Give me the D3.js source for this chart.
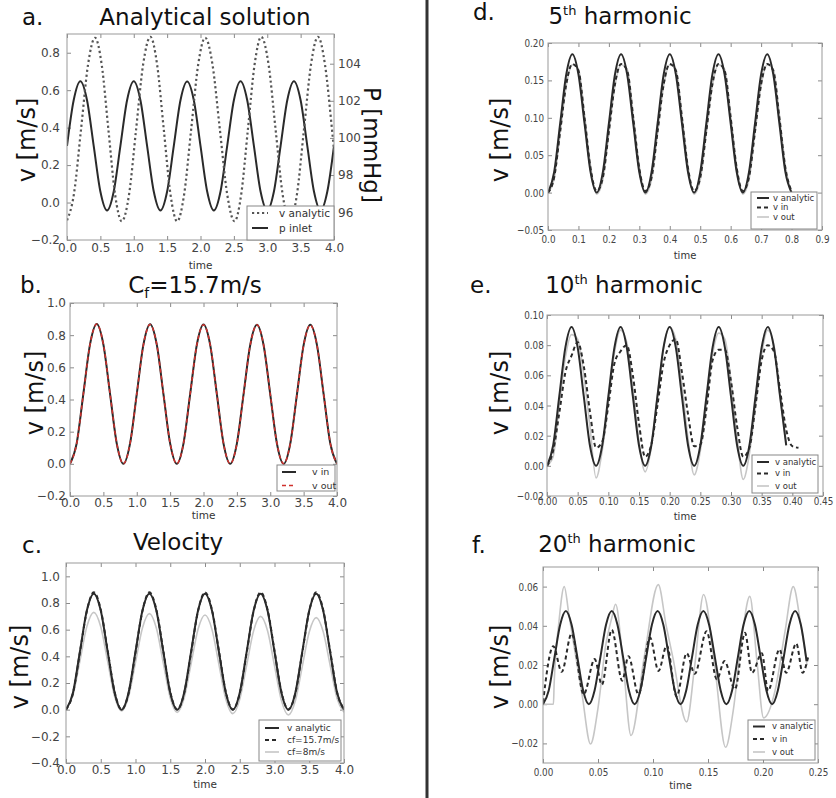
<!DOCTYPE html>
<html>
<head>
<meta charset="utf-8">
<script src="https://cdn.jsdelivr.net/npm/d3@7"></script>
<style>
  body { margin: 0; background: #fff; }
  svg text { font-family: "DejaVu Sans", sans-serif; }
</style>
</head>
<body>
<div id="container"></div>
<script>
/* DATA */
// a. analytical solution
const aVelTime = [0, 0.105, 0.21, 0.315, 0.42, 0.52, 0.62, 0.72, 0.82, 0.93, 1.035, 1.14, 1.25, 1.35, 1.45, 1.55, 1.65, 1.755, 1.86, 1.965,
  2.07, 2.18, 2.29, 2.40, 2.51, 2.61, 2.71, 2.81, 2.91, 3.02, 3.125, 3.23, 3.34, 3.445, 3.55, 3.655, 3.76, 3.865, 3.97, 4.0];
const aVelocity = [-0.095, 0.048, 0.39, 0.736, 0.88, 0.736, 0.39, 0.044, -0.10, 0.044, 0.39, 0.736, 0.885, 0.736, 0.39, 0.044, -0.10, 0.044, 0.39, 0.736,
  0.88, 0.736, 0.39, 0.044, -0.10, 0.044, 0.39, 0.736, 0.885, 0.736, 0.39, 0.044, -0.10, 0.044, 0.39, 0.736, 0.885, 0.736, 0.39, 0.28];
const tSlow = [0, 0.1, 0.2, 0.3, 0.4, 0.5, 0.6, 0.7, 0.8, 0.9, 1.0, 1.1, 1.2, 1.3, 1.4, 1.5, 1.6, 1.7, 1.8, 1.9, 2.0,
  2.1, 2.2, 2.3, 2.4, 2.5, 2.6, 2.7, 2.8, 2.9, 3.0, 3.1, 3.2, 3.3, 3.4, 3.5, 3.6, 3.7, 3.8, 3.9, 4.0];
const aPressure = [99.57, 102.03, 103.05, 102.03, 99.57, 97.11, 96.09, 97.11,
  99.57, 102.03, 103.05, 102.03, 99.57, 97.11, 96.09, 97.11,
  99.57, 102.03, 103.04, 102.03, 99.57, 97.11, 96.09, 97.11,
  99.57, 102.03, 103.05, 102.03, 99.57, 97.11, 96.09, 97.11,
  99.57, 102.03, 103.05, 102.03, 99.57, 97.11, 96.09, 97.11,
  99.57];

// b. Cf = 15.7 m/s
const bVin = [0, 0.127, 0.435, 0.743, 0.870, 0.743, 0.435, 0.127,
  0, 0.127, 0.434, 0.741, 0.868, 0.741, 0.434, 0.127,
  0, 0.126, 0.433, 0.740, 0.866, 0.740, 0.433, 0.126,
  0, 0.126, 0.432, 0.739, 0.865, 0.739, 0.432, 0.126,
  0, 0.126, 0.432, 0.738, 0.864, 0.738, 0.432, 0.126,
  0];
const bVout = [0, 0.126, 0.434, 0.742, 0.869, 0.743, 0.436, 0.128,
  0.001, 0.126, 0.433, 0.740, 0.867, 0.741, 0.435, 0.128,
  0.001, 0.125, 0.432, 0.739, 0.865, 0.740, 0.434, 0.127,
  0.001, 0.125, 0.431, 0.738, 0.864, 0.739, 0.433, 0.127,
  0.001, 0.125, 0.431, 0.737, 0.863, 0.738, 0.433, 0.127,
  0.001];

// c. velocity
const cAnalytic = [0, 0.127, 0.435, 0.743, 0.870, 0.743, 0.435, 0.127,
  0, 0.127, 0.435, 0.743, 0.870, 0.743, 0.435, 0.127,
  0, 0.127, 0.435, 0.743, 0.870, 0.743, 0.435, 0.127,
  0, 0.127, 0.435, 0.743, 0.870, 0.743, 0.435, 0.127,
  0, 0.127, 0.435, 0.743, 0.870, 0.743, 0.435, 0.127,
  0];
const cCf157 = [0, 0.122, 0.428, 0.740, 0.880, 0.750, 0.442, 0.132,
  0.002, 0.122, 0.428, 0.740, 0.880, 0.750, 0.442, 0.132,
  0.002, 0.122, 0.428, 0.740, 0.880, 0.750, 0.442, 0.132,
  0.002, 0.122, 0.428, 0.740, 0.880, 0.750, 0.442, 0.132,
  0.002, 0.122, 0.428, 0.740, 0.880, 0.750, 0.442, 0.132,
  0.002];
const cCf8 = [0, 0.107, 0.365, 0.623, 0.730, 0.622, 0.360, 0.098,
  -0.010, 0.097, 0.355, 0.613, 0.720, 0.612, 0.350, 0.088,
  -0.020, 0.087, 0.345, 0.603, 0.710, 0.602, 0.340, 0.078,
  -0.030, 0.077, 0.335, 0.593, 0.700, 0.592, 0.330, 0.068,
  -0.040, 0.067, 0.325, 0.583, 0.690, 0.586, 0.335, 0.084,
  -0.020];

// d. 5th harmonic
const dTime = [0, 0.02, 0.04, 0.06, 0.08, 0.10, 0.12, 0.14, 0.16, 0.18, 0.20, 0.22, 0.24, 0.26, 0.28, 0.30, 0.32, 0.34, 0.36, 0.38, 0.40,
  0.42, 0.44, 0.46, 0.48, 0.50, 0.52, 0.54, 0.56, 0.58, 0.60, 0.62, 0.64, 0.66, 0.68, 0.70, 0.72, 0.74, 0.76, 0.78, 0.80];
const dAnalytic = [0, 0.027, 0.0925, 0.158, 0.185, 0.158, 0.0925, 0.027,
  0, 0.027, 0.0925, 0.158, 0.185, 0.158, 0.0925, 0.027,
  0, 0.027, 0.0925, 0.158, 0.185, 0.158, 0.0925, 0.027,
  0, 0.027, 0.0925, 0.158, 0.185, 0.158, 0.0925, 0.027,
  0, 0.027, 0.0925, 0.158, 0.185, 0.158, 0.0925, 0.027,
  0];
const dVin = [0, 0.020, 0.082, 0.145, 0.172, 0.163, 0.100, 0.032,
  0.002, 0.020, 0.082, 0.145, 0.172, 0.163, 0.100, 0.032,
  0.002, 0.020, 0.082, 0.145, 0.172, 0.163, 0.100, 0.032,
  0.002, 0.020, 0.082, 0.145, 0.172, 0.163, 0.100, 0.032,
  0.002, 0.020, 0.082, 0.145, 0.172, 0.163, 0.100, 0.032,
  0.002];
const dVout = [0, 0.018, 0.080, 0.143, 0.171, 0.165, 0.104, 0.035,
  -0.002, 0.017, 0.080, 0.143, 0.171, 0.165, 0.104, 0.035,
  -0.002, 0.017, 0.080, 0.143, 0.171, 0.165, 0.104, 0.035,
  -0.002, 0.017, 0.080, 0.143, 0.171, 0.165, 0.104, 0.035,
  -0.002, 0.017, 0.080, 0.143, 0.171, 0.165, 0.104, 0.035,
  -0.002];

// e. 10th harmonic
const eTime = [0, 0.01, 0.02, 0.03, 0.04, 0.05, 0.06, 0.07, 0.08, 0.09, 0.10, 0.11, 0.12, 0.13, 0.14, 0.15, 0.16, 0.17, 0.18, 0.19,
  0.20, 0.21, 0.22, 0.23, 0.24, 0.25, 0.26, 0.27, 0.28, 0.29, 0.30, 0.31, 0.32, 0.33, 0.34, 0.35, 0.36, 0.37, 0.38, 0.39];
const eTimeIn = [0, 0.01, 0.02, 0.03, 0.04, 0.05, 0.06, 0.07, 0.08, 0.09, 0.10, 0.11, 0.12, 0.13, 0.14, 0.15, 0.16, 0.17, 0.18, 0.19,
  0.20, 0.21, 0.22, 0.23, 0.24, 0.25, 0.26, 0.27, 0.28, 0.29, 0.30, 0.31, 0.32, 0.33, 0.34, 0.35, 0.36, 0.37, 0.38, 0.39, 0.40, 0.41];
const eAnalytic = [0, 0.0135, 0.046, 0.0785, 0.092, 0.0785, 0.046, 0.0135,
  0, 0.0135, 0.046, 0.0785, 0.092, 0.0785, 0.046, 0.0135,
  0, 0.0135, 0.046, 0.0785, 0.092, 0.0785, 0.046, 0.0135,
  0, 0.0135, 0.046, 0.0785, 0.092, 0.0785, 0.046, 0.0135,
  0, 0.0135, 0.046, 0.0785, 0.092, 0.0785, 0.046, 0.0135];
const eVin = [0.000, 0.010, 0.035, 0.062, 0.073, 0.082, 0.066, 0.036, 0.012, 0.016,
  0.040, 0.068, 0.076, 0.080, 0.060, 0.028, 0.006, 0.014, 0.040, 0.068,
  0.080, 0.084, 0.062, 0.034, 0.013, 0.014, 0.038, 0.070, 0.077, 0.077,
  0.056, 0.026, 0.006, 0.012, 0.040, 0.070, 0.080, 0.076, 0.050, 0.024,
  0.013, 0.012];
const eVout = [0.000, 0.006, 0.040, 0.072, 0.087, 0.084, 0.060, 0.026, -0.008, 0.010,
  0.042, 0.075, 0.090, 0.082, 0.052, 0.016, -0.004, 0.012, 0.046, 0.078,
  0.092, 0.084, 0.054, 0.018, -0.006, 0.010, 0.042, 0.074, 0.088, 0.084,
  0.056, 0.018, -0.009, 0.008, 0.040, 0.074, 0.090, 0.080, 0.046, 0.015];

// f. 20th harmonic
const fAnTime = [0, 0.0052, 0.0104, 0.0156, 0.0208, 0.0260, 0.0313, 0.0365, 0.0417, 0.0469, 0.0521, 0.0573, 0.0625, 0.0677, 0.0729, 0.0781,
  0.0833, 0.0885, 0.0938, 0.0990, 0.1042, 0.1094, 0.1146, 0.1198, 0.1250, 0.1302, 0.1354, 0.1406, 0.1458, 0.1510, 0.1563, 0.1615,
  0.1667, 0.1719, 0.1771, 0.1823, 0.1875, 0.1927, 0.1979, 0.2031, 0.2083, 0.2135, 0.2188, 0.2240, 0.2292, 0.2344, 0.2396];
const fAnalytic = [0, 0.007, 0.0238, 0.0405, 0.0475, 0.0405, 0.0238, 0.007,
  0, 0.007, 0.0238, 0.0405, 0.0475, 0.0405, 0.0238, 0.007,
  0, 0.007, 0.0238, 0.0405, 0.0475, 0.0405, 0.0238, 0.007,
  0, 0.007, 0.0238, 0.0405, 0.0475, 0.0405, 0.0238, 0.007,
  0, 0.007, 0.0238, 0.0405, 0.0475, 0.0405, 0.0238, 0.007,
  0, 0.007, 0.0238, 0.0405, 0.0475, 0.0405, 0.022];
const fInTime = [0, 0.0094, 0.017, 0.026, 0.037, 0.047, 0.0535, 0.0625, 0.072, 0.0777, 0.0868, 0.0973, 0.105, 0.1125, 0.1215,
  0.1306, 0.138, 0.1487, 0.158, 0.165, 0.1745, 0.1836, 0.190, 0.199, 0.2046, 0.215, 0.221, 0.2303, 0.236, 0.241];
const fIn = [0.001, 0.0296, 0.0165, 0.036, 0.005, 0.023, 0.010, 0.038, 0.012, 0.0245, 0.005, 0.034, 0.017, 0.030, 0.004,
  0.026, 0.0155, 0.0372, 0.0127, 0.022, 0.0076, 0.0364, 0.016, 0.026, 0.0068, 0.028, 0.016, 0.031, 0.016, 0.024];
const fOutTime = [0, 0.0095, 0.0101, 0.0145, 0.0193, 0.0235, 0.0275, 0.0355, 0.0432, 0.050, 0.057, 0.0625, 0.066, 0.073, 0.080,
  0.092, 0.1048, 0.112, 0.118, 0.1306, 0.138, 0.146, 0.156, 0.166, 0.173, 0.181, 0.188, 0.1945, 0.2005, 0.211,
  0.220, 0.2275, 0.234, 0.240];
const fOut = [0, 0, 0.010, 0.042, 0.060, 0.046, 0.032, 0.005, -0.0203, -0.002, 0.030, 0.044, 0.051, 0.020, -0.016,
  0.024, 0.061, 0.040, 0.024, -0.009, 0.020, 0.056, 0.020, -0.022, -0.003, 0.035, 0.055, 0.022, -0.007, 0.007,
  0.037, 0.060, 0.042, 0.020];

// tick values
const ticksTime4 = [0, 0.5, 1, 1.5, 2, 2.5, 3, 3.5, 4];
const ticksA = [-0.2, 0, 0.2, 0.4, 0.6, 0.8];
const ticksP = [96, 98, 100, 102, 104];
const ticksB = [-0.2, 0, 0.2, 0.4, 0.6, 0.8, 1.0];
const ticksC = [-0.4, -0.2, 0, 0.2, 0.4, 0.6, 0.8, 1.0];
const ticksDx = [0, 0.1, 0.2, 0.3, 0.4, 0.5, 0.6, 0.7, 0.8, 0.9];
const ticksDy = [-0.05, 0, 0.05, 0.1, 0.15, 0.2];
const ticksEx = [0, 0.05, 0.1, 0.15, 0.2, 0.25, 0.3, 0.35, 0.4, 0.45];
const ticksEy = [-0.02, 0, 0.02, 0.04, 0.06, 0.08, 0.1];
const ticksFx = [0, 0.05, 0.1, 0.15, 0.2, 0.25];
const ticksFy = [-0.02, 0, 0.02, 0.04, 0.06];

/* STYLES */
const styles = {
  solid: { stroke: "#2a2a2a", width: 2, dash: null },
  dash: { stroke: "#2a2a2a", width: 2, dash: "4,3" },
  dot: { stroke: "#555", width: 2.2, dash: "2.2,2.8" },
  gray: { stroke: "#c6c6c6", width: 1.6, dash: null },
  red: { stroke: "#d0312d", width: 1.5, dash: "4,3" }
};

const svg = d3.select("#container").append("svg")
  .attr("width", 836)
  .attr("height", 798);
svg.append("rect").attr("width", 836).attr("height", 798).attr("fill", "#fff");

function drawPanel(p) {
  const x = d3.scaleLinear().domain(p.xDomain).range([p.left, p.right]);
  const y = d3.scaleLinear().domain(p.yDomain).range([p.bottom, p.top]);
  const y2 = p.y2Domain ? d3.scaleLinear().domain(p.y2Domain).range([p.bottom, p.top]) : null;
  const g = svg.append("g");
  const sq = p.squeeze || 1;

  svg.append("clipPath").attr("id", "clip-" + p.id)
    .append("rect")
    .attr("x", p.left).attr("y", p.top)
    .attr("width", p.right - p.left).attr("height", p.bottom - p.top);

  const styleAxis = (sel, fontSize) => {
    sel.select(".domain").remove();
    sel.attr("font-family", "DejaVu Sans").attr("font-size", fontSize);
    sel.selectAll("line").attr("stroke", "#8a8a8a");
    sel.selectAll("text").attr("fill", "#444").attr("transform", `scale(${sq},1)`);
  };
  const blank = () => "";

  g.append("g").attr("transform", `translate(0,${p.bottom})`)
    .call(d3.axisBottom(x).tickValues(p.xTicks).tickFormat(d3.format(p.xFormat)).tickSize(-4).tickPadding(p.xPad))
    .call(s => styleAxis(s, p.tickFont));
  g.append("g").attr("transform", `translate(0,${p.top})`)
    .call(d3.axisTop(x).tickValues(p.xTicks).tickFormat(blank).tickSize(-4))
    .call(s => styleAxis(s, p.tickFont));
  g.append("g").attr("transform", `translate(${p.left},0)`)
    .call(d3.axisLeft(y).tickValues(p.yTicks).tickFormat(d3.format(p.yFormat)).tickSize(-4).tickPadding(p.yPad))
    .call(s => styleAxis(s, p.tickFont));
  if (y2) {
    g.append("g").attr("transform", `translate(${p.right},0)`)
      .call(d3.axisRight(y2).tickValues(p.y2Ticks).tickFormat(d3.format("d")).tickSize(-4).tickPadding(4))
      .call(s => styleAxis(s, p.tickFont));
  } else {
    g.append("g").attr("transform", `translate(${p.right},0)`)
      .call(d3.axisRight(y).tickValues(p.yTicks).tickFormat(blank).tickSize(-4))
      .call(s => styleAxis(s, p.tickFont));
  }

  p.series.forEach(s => {
    const st = styles[s.style];
    const yy = s.axis === 2 ? y2 : y;
    const pts = s.t.map((t, i) => [t, s.v[i]]);
    g.append("path")
      .datum(pts)
      .attr("clip-path", `url(#clip-${p.id})`)
      .attr("fill", "none")
      .attr("stroke", st.stroke)
      .attr("stroke-width", st.width)
      .attr("stroke-dasharray", st.dash)
      .attr("d", d3.line().x(d => x(d[0])).y(d => yy(d[1])).curve(d3.curveMonotoneX));
  });

  g.append("rect")
    .attr("x", p.left).attr("y", p.top)
    .attr("width", p.right - p.left).attr("height", p.bottom - p.top)
    .attr("fill", "none").attr("stroke", "#999");

  // legend
  const L = p.legend;
  g.append("rect")
    .attr("x", L.box[0]).attr("y", L.box[1])
    .attr("width", L.box[2] - L.box[0]).attr("height", L.box[3] - L.box[1])
    .attr("fill", "#fff").attr("stroke", "#888");
  L.items.forEach((it, i) => {
    const st = styles[it.style];
    g.append("line")
      .attr("x1", L.line[0]).attr("x2", L.line[1])
      .attr("y1", L.ys[i]).attr("y2", L.ys[i])
      .attr("stroke", st.stroke).attr("stroke-width", st.width)
      .attr("stroke-dasharray", st.dash);
    g.append("text")
      .attr("x", L.textX).attr("y", L.ys[i])
      .attr("dy", "0.35em")
      .attr("font-size", L.font)
      .attr("fill", "#333")
      .text(it.label);
  });

  // x label
  g.append("text")
    .attr("x", (p.left + p.right) / 2 + (p.timeDx || 0)).attr("y", p.timeY)
    .attr("text-anchor", "middle")
    .attr("font-size", p.timeFont)
    .attr("fill", "#333")
    .text("time");

  // y label
  g.append("text")
    .attr("transform", `translate(${p.yLabel[0]},${p.yLabel[1]}) rotate(-90)`)
    .attr("text-anchor", "middle")
    .attr("dy", "0.35em")
    .attr("font-family", "Lato")
    .attr("font-size", 24)
    .attr("fill", "#111")
    .text("v [m/s]");

  // panel letter
  g.append("text")
    .attr("x", p.letter[0]).attr("y", p.letter[1])
    .attr("font-family", "Lato").attr("font-size", 23).attr("fill", "#111")
    .text(p.letter[2]);

  return { x, y, g };
}

/* PANELS */
const pa = drawPanel({
  id: "a", left: 67, right: 334, top: 34, bottom: 240,
  xDomain: [0, 4], yDomain: [-0.2, 0.9], y2Domain: [94.5, 105.6],
  xTicks: ticksTime4, yTicks: ticksA, y2Ticks: ticksP,
  xFormat: ".1f", yFormat: ".1f", xPad: 3, yPad: 7, tickFont: 12,
  series: [
    { t: tSlow, v: aPressure, style: "solid", axis: 2 },
    { t: aVelTime, v: aVelocity, style: "dot" }
  ],
  legend: { box: [247, 206, 334, 240], line: [252, 268], textX: 279, ys: [213, 228], font: 10.5,
    items: [{ label: "v analytic", style: "dot" }, { label: "p inlet", style: "solid" }] },
  timeY: 269, timeFont: 10.5, timeDx: 0,
  yLabel: [27, 140], letter: [22, 25, "a."]
});
pa.g.append("text")
  .attr("x", 205).attr("y", 25)
  .attr("text-anchor", "middle")
  .attr("font-family", "Lato").attr("font-size", 23).attr("fill", "#111")
  .text("Analytical solution");
pa.g.append("text")
  .attr("transform", "translate(372,145) rotate(90)")
  .attr("text-anchor", "middle").attr("dy", "0.35em")
  .attr("font-family", "Lato").attr("font-size", 23).attr("fill", "#111")
  .text("P [mmHg]");

const pb = drawPanel({
  id: "b", left: 70, right: 337, top: 303, bottom: 496,
  xDomain: [0, 4], yDomain: [-0.2, 1.0],
  xTicks: ticksTime4, yTicks: ticksB,
  xFormat: ".1f", yFormat: ".1f", xPad: 2, yPad: 4, tickFont: 12,
  series: [
    { t: tSlow, v: bVin, style: "solid" },
    { t: tSlow, v: bVout, style: "red" }
  ],
  legend: { box: [277, 465, 335, 491], line: [282, 296], textX: 312, ys: [472, 485.5], font: 9.5,
    items: [{ label: "v in", style: "solid" }, { label: "v out", style: "red" }] },
  timeY: 519, timeFont: 10.5,
  yLabel: [35, 393], letter: [20, 293, "b."]
});
const tb = pb.g.append("text")
  .attr("x", 195).attr("y", 293)
  .attr("text-anchor", "middle")
  .attr("font-family", "Lato").attr("font-size", 23).attr("fill", "#111");
tb.append("tspan").text("C");
tb.append("tspan").attr("dy", 5).attr("font-size", 14).text("f");
tb.append("tspan").attr("dy", -5).text("=15.7m/s");

const pc = drawPanel({
  id: "c", left: 66, right: 344, top: 563, bottom: 763,
  xDomain: [0, 4], yDomain: [-0.4, 1.1],
  xTicks: ticksTime4, yTicks: ticksC,
  xFormat: ".1f", yFormat: ".1f", xPad: 2, yPad: 6, tickFont: 12,
  series: [
    { t: tSlow, v: cCf8, style: "gray" },
    { t: tSlow, v: cAnalytic, style: "solid" },
    { t: tSlow, v: cCf157, style: "dash" }
  ],
  legend: { box: [259, 720, 341, 761], line: [265, 279], textX: 287, ys: [728, 740, 752], font: 9,
    items: [{ label: "v analytic", style: "solid" }, { label: "cf=15.7m/s", style: "dash" }, { label: "cf=8m/s", style: "gray" }] },
  timeY: 788, timeFont: 10.5,
  yLabel: [20, 667], letter: [22, 553, "c."]
});
pc.g.append("text")
  .attr("x", 178).attr("y", 550)
  .attr("text-anchor", "middle")
  .attr("font-family", "Lato").attr("font-size", 23).attr("fill", "#111")
  .text("Velocity");

function harmonicTitle(g, cx, by, num) {
  const t = g.append("text")
    .attr("x", cx).attr("y", by)
    .attr("text-anchor", "middle")
    .attr("font-family", "Lato").attr("font-size", 23).attr("fill", "#111");
  t.append("tspan").text(num);
  t.append("tspan").attr("dy", -9).attr("font-size", 13).text("th");
  t.append("tspan").attr("dy", 9).text(" harmonic");
}

const pd = drawPanel({
  id: "d", left: 548, right: 822, top: 43, bottom: 230,
  xDomain: [0, 0.9], yDomain: [-0.05, 0.20],
  xTicks: ticksDx, yTicks: ticksDy,
  xFormat: ".1f", yFormat: ".2f", xPad: 5, yPad: 5, tickFont: 11, squeeze: 0.8,
  series: [
    { t: dTime, v: dVout, style: "gray" },
    { t: dTime, v: dAnalytic, style: "solid" },
    { t: dTime, v: dVin, style: "dash" }
  ],
  legend: { box: [751, 192, 817, 229], line: [757, 769], textX: 773, ys: [198, 207.5, 217], font: 8.5,
    items: [{ label: "v analytic", style: "solid" }, { label: "v in", style: "dash" }, { label: "v out", style: "gray" }] },
  timeY: 259, timeFont: 10,
  yLabel: [500, 140], letter: [473, 20, "d."]
});
harmonicTitle(pd.g, 620, 24, "5");

const pe = drawPanel({
  id: "e", left: 547, right: 823, top: 315, bottom: 496,
  xDomain: [0, 0.45], yDomain: [-0.02, 0.10],
  xTicks: ticksEx, yTicks: ticksEy,
  xFormat: ".2f", yFormat: ".2f", xPad: 1, yPad: 4, tickFont: 11, squeeze: 0.8,
  series: [
    { t: eTime, v: eVout, style: "gray" },
    { t: eTime, v: eAnalytic, style: "solid" },
    { t: eTimeIn, v: eVin, style: "dash" }
  ],
  legend: { box: [752, 455, 818, 493], line: [757, 769], textX: 775, ys: [462, 473.5, 486], font: 8.5,
    items: [{ label: "v analytic", style: "solid" }, { label: "v in", style: "dash" }, { label: "v out", style: "gray" }] },
  timeY: 520, timeFont: 10,
  yLabel: [500, 393], letter: [470, 293, "e."]
});
harmonicTitle(pe.g, 624, 293, "10");

const pf = drawPanel({
  id: "f", left: 543, right: 818, top: 567, bottom: 763,
  xDomain: [0, 0.25], yDomain: [-0.03, 0.07],
  xTicks: ticksFx, yTicks: ticksFy,
  xFormat: ".2f", yFormat: ".2f", xPad: 5, yPad: 6, tickFont: 11, squeeze: 0.8,
  series: [
    { t: fOutTime, v: fOut, style: "gray" },
    { t: fAnTime, v: fAnalytic, style: "solid" },
    { t: fInTime, v: fIn, style: "dash" }
  ],
  legend: { box: [748, 720, 815, 760], line: [753, 765], textX: 772, ys: [726.5, 739, 752], font: 8.5,
    items: [{ label: "v analytic", style: "solid" }, { label: "v in", style: "dash" }, { label: "v out", style: "gray" }] },
  timeY: 789, timeFont: 10,
  yLabel: [500, 667], letter: [472, 553, "f."]
});
harmonicTitle(pf.g, 617, 552, "20");

// divider between the two columns
svg.append("line")
  .attr("x1", 427).attr("x2", 427)
  .attr("y1", 0).attr("y2", 798)
  .attr("stroke", "#333").attr("stroke-width", 3);
</script>
</body>
</html>
